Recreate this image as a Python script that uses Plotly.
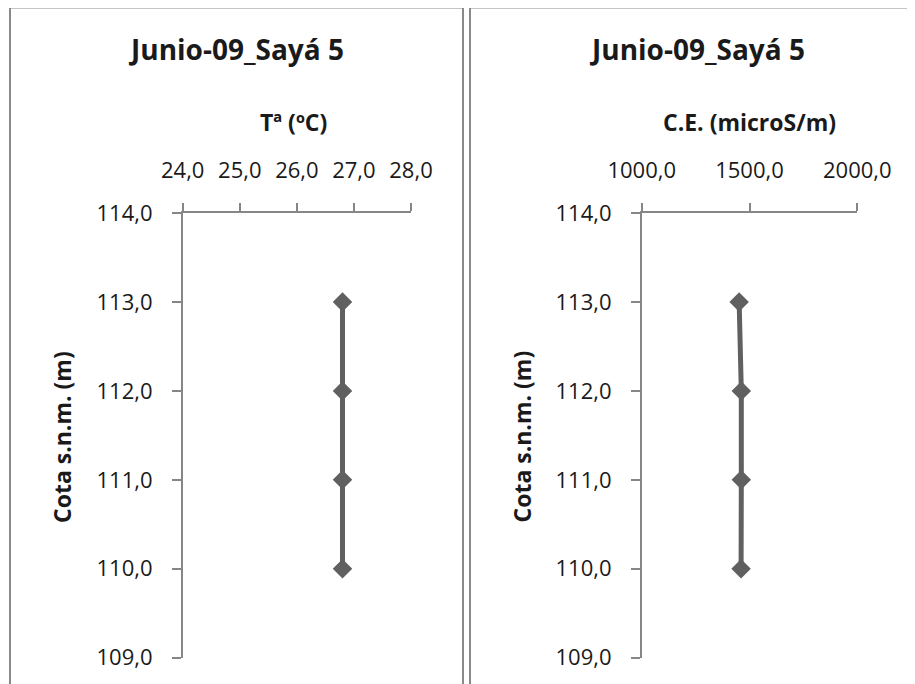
import plotly.graph_objects as go

# Data
cota = [113.0, 112.0, 111.0, 110.0]
temperatura = [26.8, 26.8, 26.8, 26.8]
conductividad = [1452.0, 1462.0, 1462.0, 1461.0]

titulo = "Junio-09_Sayá 5"
titulo_t = "Tª (ºC)"
titulo_ce = "C.E. (microS/m)"
titulo_y = "Cota s.n.m. (m)"

W, H = 915, 684
OFF = 8  # page body margin offset
FONT = "Open Sans"
LINE_COLOR = "#606060"
AXIS_COLOR = "#868686"
FRAME_COLOR = "#8a8a8a"


def px_x(p):
    return (p - OFF) / W


def px_y(p):
    return 1 - (p - OFF) / H


fig = go.Figure()

fig.add_trace(go.Scatter(
    x=temperatura, y=cota, xaxis="x", yaxis="y", mode="lines+markers",
    line=dict(color=LINE_COLOR, width=5),
    marker=dict(symbol="diamond", size=15, color=LINE_COLOR),
))
fig.add_trace(go.Scatter(
    x=conductividad, y=cota, xaxis="x2", yaxis="y2", mode="lines+markers",
    line=dict(color=LINE_COLOR, width=5),
    marker=dict(symbol="diamond", size=15, color=LINE_COLOR),
))

tickfont = dict(family=FONT, size=22, color="#1a1a1a")
common_axis = dict(
    showline=True, linecolor=AXIS_COLOR, linewidth=1.5,
    ticks="outside", tickcolor=AXIS_COLOR, tickwidth=1.5,
    showgrid=False, zeroline=False, tickfont=tickfont,
    tickformat=".1f", fixedrange=True, automargin=False,
)

fig.update_layout(
    template="none",
    width=W, height=H,
    margin=dict(l=0, r=0, t=0, b=0, autoexpand=False),
    paper_bgcolor="white", plot_bgcolor="white",
    showlegend=False,
    separators=", ",
    xaxis=dict(domain=[px_x(182.7), px_x(411)], range=[24, 28], dtick=1,
               side="top", anchor="y", ticklen=8, ticklabelstandoff=16,
               **common_axis),
    yaxis=dict(domain=[px_y(657.7), px_y(213)], range=[109, 114], dtick=1,
               anchor="x", ticklen=9, ticklabelstandoff=15, **common_axis),
    xaxis2=dict(domain=[px_x(641.7), px_x(857.3)], range=[1000, 2000], dtick=500,
                side="top", anchor="y2", ticklen=8, ticklabelstandoff=16,
                **common_axis),
    yaxis2=dict(domain=[px_y(657.7), px_y(213)], range=[109, 114], dtick=1,
                anchor="x2", ticklen=9, ticklabelstandoff=15, **common_axis),
)

# Chart frames
fig.add_shape(type="rect", xref="paper", yref="paper",
              x0=px_x(10), x1=px_x(463), y0=px_y(720), y1=px_y(7.5),
              line=dict(color=FRAME_COLOR, width=2), fillcolor="rgba(0,0,0,0)",
              layer="below")
fig.add_shape(type="rect", xref="paper", yref="paper",
              x0=px_x(470), x1=px_x(950), y0=px_y(720), y1=px_y(7.5),
              line=dict(color=FRAME_COLOR, width=2), fillcolor="rgba(0,0,0,0)",
              layer="below")

titlefont = dict(family=FONT, size=28, color="#1a1a1a")
axtitlefont = dict(family=FONT, size=23, color="#1a1a1a")

annotations = [
    dict(text="<b>%s</b>" % titulo, x=px_x(236), y=px_y(49), font=titlefont),
    dict(text="<b>%s</b>" % titulo, x=px_x(697), y=px_y(49), font=titlefont),
    dict(text="<b>%s</b>" % titulo_t, x=px_x(293), y=px_y(122), font=axtitlefont),
    dict(text="<b>%s</b>" % titulo_ce, x=px_x(749), y=px_y(122), font=axtitlefont),
    dict(text="<b>%s</b>" % titulo_y, x=px_x(62), y=px_y(437), font=axtitlefont,
         textangle=-90),
    dict(text="<b>%s</b>" % titulo_y, x=px_x(521.5), y=px_y(437), font=axtitlefont,
         textangle=-90),
]
for a in annotations:
    fig.add_annotation(xref="paper", yref="paper", showarrow=False,
                       xanchor="center", yanchor="middle", **a)

fig.write_html("out.html")
